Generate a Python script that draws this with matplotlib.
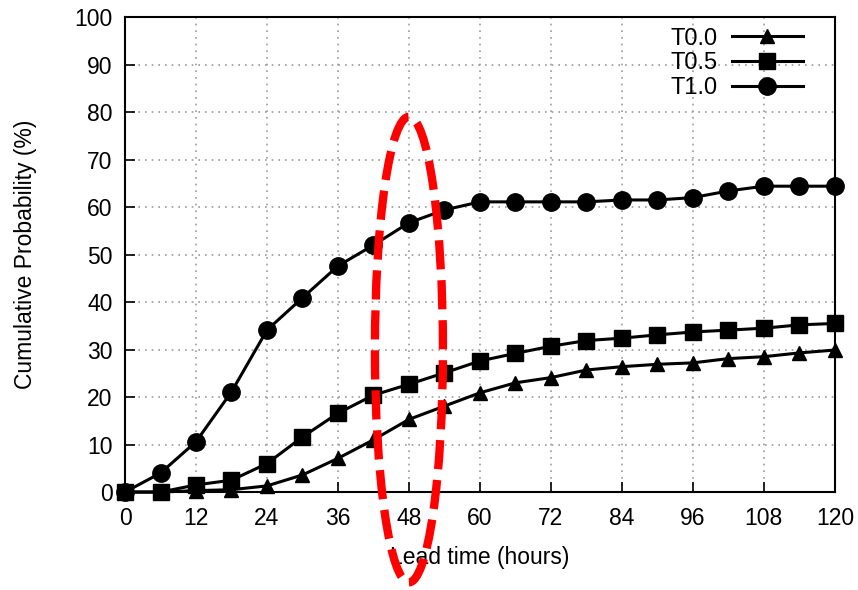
import matplotlib.pyplot as plt
from matplotlib.patches import Ellipse

plt.rcParams['font.family'] = ['Liberation Sans', 'DejaVu Sans']

# lead time (hours)
lead_time = [0, 6, 12, 18, 24, 30, 36, 42, 48, 54, 60, 66, 72, 78, 84, 90, 96, 102, 108, 114, 120]

t00 = [0, 0, 0.3, 0.5, 1.3, 3.6, 7.1, 11.0, 15.3, 18.1, 20.9, 23.0, 24.1, 25.7, 26.4, 26.9, 27.2, 28.1, 28.5, 29.3, 29.9]
t05 = [0, 0, 1.5, 2.5, 6.0, 11.6, 16.6, 20.4, 22.7, 25.1, 27.6, 29.2, 30.7, 31.9, 32.4, 33.1, 33.7, 34.1, 34.5, 35.2, 35.5]
t10 = [0, 4.0, 10.6, 21.1, 34.1, 40.9, 47.6, 52.0, 56.7, 59.4, 61.1, 61.1, 61.1, 61.1, 61.5, 61.5, 62.0, 63.4, 64.4, 64.4, 64.4]

x_ticks = [0, 12, 24, 36, 48, 60, 72, 84, 96, 108, 120]
y_ticks = [0, 10, 20, 30, 40, 50, 60, 70, 80, 90, 100]

fig = plt.figure(figsize=(8.58, 5.9), dpi=100)
ax = fig.add_axes([0.1457, 0.166, 0.8273, 0.805])

ax.plot(lead_time, t00, 'k-^', lw=2.2, ms=10, label='T0.0', clip_on=False, zorder=3)
ax.plot(lead_time, t05, 'k-s', lw=2.2, ms=12, label='T0.5', clip_on=False, zorder=3)
ax.plot(lead_time, t10, 'k-o', lw=2.2, ms=12.5, label='T1.0', clip_on=False, zorder=3)

ax.set_xlim(0, 120)
ax.set_ylim(0, 100)
ax.set_xticks(x_ticks)
ax.set_yticks(y_ticks)
ax.tick_params(direction='in', length=7, width=1.2, labelsize=16.5)
ax.tick_params(axis='x', pad=11)
ax.tick_params(axis='y', pad=9)
ax.grid(True, linestyle=(0, (1, 3)), color='#999999', lw=1.2)
for s in ax.spines.values():
    s.set_linewidth(1.5)

ax.set_xlabel('Lead time (hours)', fontsize=16.5, labelpad=11)
ax.set_ylabel('Cumulative Probability (%)', fontsize=16.5, labelpad=27)

ax.legend(loc='upper right', bbox_to_anchor=(0.965, 0.993), frameon=False, markerfirst=False,
          fontsize=17, handlelength=3.0, labelspacing=0.12, borderaxespad=0.1,
          borderpad=0.2, handletextpad=0.6)

# red dashed highlight around 48h
ell = Ellipse((48, 30), 11.5, 98, fill=False, ec='red', lw=6, ls=(0, (3.5, 1.3)),
              clip_on=False, zorder=5)
ax.add_patch(ell)

plt.savefig('out.png', dpi=100)
